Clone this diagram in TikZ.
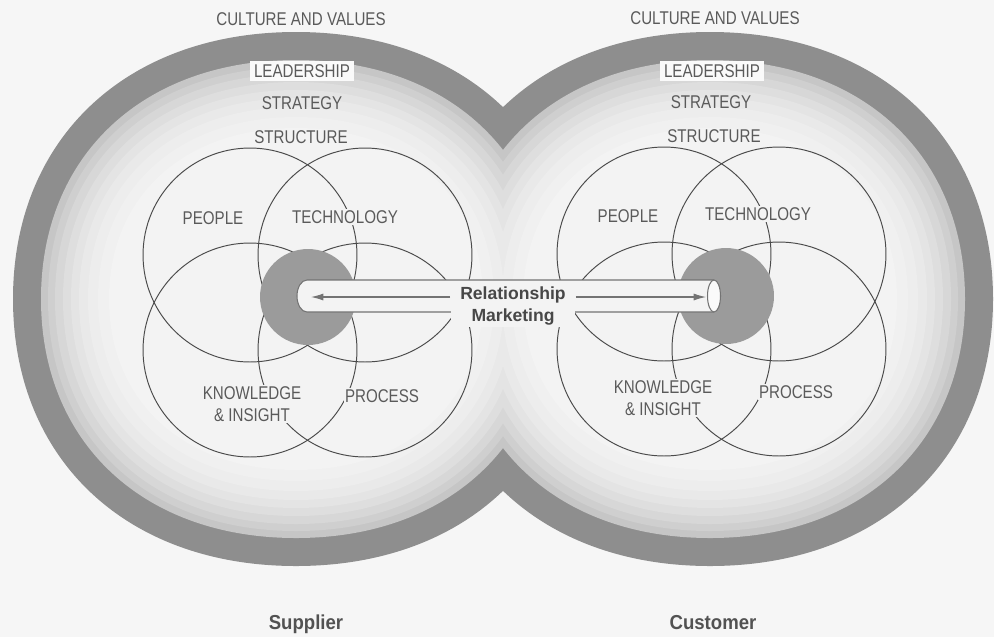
\documentclass[tikz,border=0pt]{standalone}
\usepackage{fontspec}
\setmainfont{Liberation Sans}
\usetikzlibrary{arrows.meta}
\definecolor{bgc}{RGB}{246,246,246}
\definecolor{innerc}{RGB}{243,243,243}
\definecolor{discc}{RGB}{155,155,155}
\definecolor{txtc}{RGB}{90,90,90}
\definecolor{lnc}{RGB}{75,75,75}
\definecolor{boxc}{RGB}{250,250,250}
\def\blobk{0.6}
\newcommand\blob[4]{%
  ({#1+#3},{#2}) .. controls ({#1+#3},{#2+\blobk*#4}) and ({#1+\blobk*#3},{#2+#4}) .. ({#1},{#2+#4})
  .. controls ({#1-\blobk*#3},{#2+#4}) and ({#1-#3},{#2+\blobk*#4}) .. ({#1-#3},{#2})
  .. controls ({#1-#3},{#2-\blobk*#4}) and ({#1-\blobk*#3},{#2-#4}) .. ({#1},{#2-#4})
  .. controls ({#1+\blobk*#3},{#2-#4}) and ({#1+#3},{#2-\blobk*#4}) .. ({#1+#3},{#2}) -- cycle}
\tikzset{
  lab/.style={font=\fontsize{10.5}{13}\selectfont, text=txtc, xscale=0.82, inner sep=1pt, align=center},
  clab/.style={lab, fill=innerc},
  leadbox/.style={lab, fill=boxc, inner xsep=2.5pt, inner ysep=2pt},
  petal/.style={draw=lnc, line width=0.55pt},
  tubeline/.style={draw=black!55, line width=0.6pt},
  rmlab/.style={font=\bfseries\fontsize{10}{12}\selectfont, text=black!72, fill=innerc, align=center, minimum width=2.5cm, inner sep=1pt},
  arr/.style={draw=black!55, line width=0.6pt, -{Latex[length=7pt,width=4pt]}},
  who/.style={font=\bfseries\fontsize{11.5}{13}\selectfont, text=black!68, xscale=0.92}
}
\begin{document}
\begin{tikzpicture}[x=0.02cm, y=-0.02cm]
\useasboundingbox (0,0) rectangle (994,637);
\fill[bgc] (0,0) rectangle (994,637);
% banded figure-eight
\foreach \layoff/\laylev in {0/142, 28/198, 35/207, 42/215, 50/222, 58/228, 66/233, 75/237, 85/240, 96/243}{
  \pgfmathsetmacro\blobA{283-\layoff}
  \pgfmathsetmacro\blobB{267-\layoff}
  \definecolor{layc}{RGB}{\laylev,\laylev,\laylev}
  \fill[layc] \blob{296}{299}{\blobA}{\blobB};
  \fill[layc] \blob{710}{299}{\blobA}{\blobB};
}
% left cluster circles
\draw[petal] (250,255) circle[radius=2.14cm];
\draw[petal] (365,255) circle[radius=2.14cm];
\draw[petal] (250,350) circle[radius=2.14cm];
\draw[petal] (365,350) circle[radius=2.14cm];
% right cluster circles
\draw[petal] (664,254) circle[radius=2.14cm];
\draw[petal] (779,254) circle[radius=2.14cm];
\draw[petal] (664,349) circle[radius=2.14cm];
\draw[petal] (779,349) circle[radius=2.14cm];
% discs
\fill[discc] (308,297) circle[radius=0.96cm];
\fill[discc] (726,296) circle[radius=0.96cm];
% top labels
\node[lab] (cvl) at (301,19) {CULTURE AND VALUES};
\node[lab] (cvr) at (715,18) {CULTURE AND VALUES};
\node[leadbox] (ldl) at (302,71) {LEADERSHIP};
\node[leadbox] (ldr) at (712,71) {LEADERSHIP};
\node[lab] (stl) at (302,103) {STRATEGY};
\node[lab] (str) at (711,102) {STRATEGY};
\node[lab] (sul) at (301,137) {STRUCTURE};
\node[lab] (sur) at (714,136) {STRUCTURE};
% cluster labels
\node[clab] (pel) at (213,218) {PEOPLE};
\node[clab] (tel) at (345,217) {TECHNOLOGY};
\node[clab, font=\fontsize{10.5}{12.6}\selectfont] (knl) at (252,404) {KNOWLEDGE\\\& INSIGHT};
\node[clab] (prl) at (382,396) {PROCESS};
\node[clab] (per) at (628,216) {PEOPLE};
\node[clab] (ter) at (758,214) {TECHNOLOGY};
\node[clab, font=\fontsize{10.5}{12.6}\selectfont] (knr) at (663,398) {KNOWLEDGE\\\& INSIGHT};
\node[clab] (prr) at (796,392) {PROCESS};
% tube
\fill[innerc] (714,280) -- (307,280) arc[start angle=90, end angle=270, x radius=0.2cm, y radius=0.32cm] -- (714,312) -- cycle;
\draw[tubeline] (714,280) -- (307,280) arc[start angle=90, end angle=270, x radius=0.2cm, y radius=0.32cm] -- (714,312);
\filldraw[tubeline, fill=boxc] (714,296) ellipse[x radius=0.13cm, y radius=0.32cm];
% relationship marketing
\node[rmlab] (rm) at (513,306) {Relationship\\Marketing};
\coordinate (lt) at (311,297);
\coordinate (rt) at (706,297);
\draw[arr] (rm.west |- lt) -- (lt);
\draw[arr] (rm.east |- rt) -- (rt);
% bottom labels
\node[who] (sup) at (306,624) {Supplier};
\node[who] (cus) at (713,623) {Customer};
\end{tikzpicture}
\end{document}
